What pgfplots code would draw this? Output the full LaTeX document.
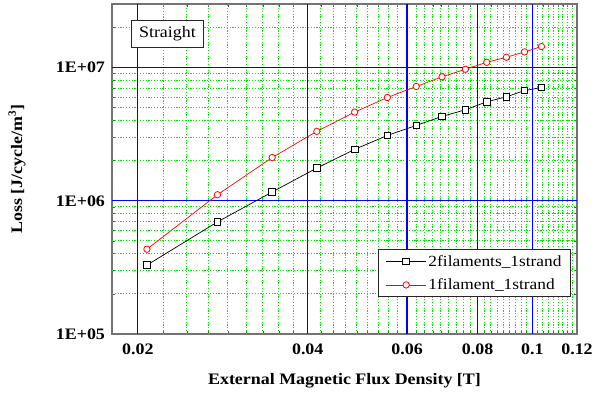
\documentclass[border=0pt]{standalone}
\usepackage{fontspec}
\setmainfont{Liberation Serif}
\newfontfamily\lbl[FakeStretch=1.12]{Liberation Serif}
\usepackage{pgfplots}
\pgfplotsset{compat=1.18}
\definecolor{gridgreen}{RGB}{0,235,0}
\definecolor{gridblue}{RGB}{0,0,255}
\tikzset{mingrid/.style={color=gridgreen, line width=1pt, dash pattern=on 1.2pt off 1.6pt},
         majgrid/.style={color=gridblue, line width=1.3pt}}
\begin{document}
\begin{tikzpicture}
\fill[white] (0,0) rectangle (594pt,396pt);
\useasboundingbox (0,0) rectangle (594pt,396pt);
\begin{axis}[
  at={(112pt,62pt)}, anchor=south west,
  scale only axis, width=465pt, height=330pt,
  xmode=log, ymode=log,
  xmin=0.018, xmax=0.12, ymin=1e5, ymax=3e7,
  xtick={0.02,0.04,0.06,0.08,0.1,0.12},
  xticklabels={0.02,0.04,0.06,0.08,0.1,0.12},
  minor xtick={0.02222,0.02444,0.02667,0.02889,0.03111,0.03333,0.03556,0.03778,
               0.04222,0.04444,0.04667,0.04889,0.05111,0.05333,0.05556,0.05778,
               0.06222,0.06444,0.06667,0.06889,0.07111,0.07333,0.07556,0.07778,
               0.08222,0.08444,0.08667,0.08889,0.09111,0.09333,0.09556,0.09778,
               0.10222,0.10444,0.10667,0.10889,0.11111,0.11333,0.11556,0.11778},
  ytick={1e5,1e6,1e7},
  yticklabels={1E+05,1E+06,1E+07},
  minor ytick={2e5,3e5,4e5,5e5,6e5,7e5,8e5,9e5,2e6,3e6,4e6,5e6,6e6,7e6,8e6,9e6,2e7},
  axis line style={black!55, line width=1.2pt},
  tick style={black!65, line width=0.7pt},
  major tick length=4pt, minor tick length=3pt,
  tick align=inside,
  xticklabel style={font=\lbl\bfseries\fontsize{16}{18}\selectfont, anchor=center, yshift=-15pt},
  yticklabel style={font=\lbl\bfseries\fontsize{16}{18}\selectfont, anchor=east, xshift=-3.5pt},
  xlabel={External Magnetic Flux Density [T]},
  ylabel={Loss [J/cycle/m$^{\mathbf{3}}$]},
  every axis x label/.style={at={(rel axis cs:0.5,0)}, anchor=center, yshift=-47pt,
     font=\lbl\bfseries\fontsize{16}{18}\selectfont},
  every axis y label/.style={at={(rel axis cs:-0.204,0.5)}, rotate=90, anchor=center,
     font=\lbl\bfseries\fontsize{16}{18}\selectfont},
  legend style={at={(rel axis cs:0.987,0.112)}, anchor=south east,
     draw=black!85, line width=0.8pt, fill=white,
     font=\lbl\fontsize{15.5}{17}\selectfont,
     inner xsep=7pt, inner ysep=3.5pt, row sep=7pt},
  legend cell align=left,
  legend image code/.code={
    \draw[mark repeat=2,mark phase=2,line width=0.7pt]
      plot coordinates {(0pt,0pt) (20pt,0pt) (40pt,0pt)};
  },
]
\pgfplotsinvokeforeach{0.02222,0.02444,0.02667,0.02889,0.03111,0.03333,0.03556,0.03778,
               0.04222,0.04444,0.04667,0.04889,0.05111,0.05333,0.05556,0.05778,
               0.06222,0.06444,0.06667,0.06889,0.07111,0.07333,0.07556,0.07778,
               0.08222,0.08444,0.08667,0.08889,0.09111,0.09333,0.09556,0.09778,
               0.10222,0.10444,0.10667,0.10889,0.11111,0.11333,0.11556,0.11778}{
  \draw[mingrid] (axis cs:#1,1e5) -- (axis cs:#1,3e7);
}
\pgfplotsinvokeforeach{2e5,3e5,4e5,5e5,6e5,7e5,8e5,9e5,2e6,3e6,4e6,5e6,6e6,7e6,8e6,9e6,2e7}{
  \draw[mingrid] (axis cs:0.018,#1) -- (axis cs:0.12,#1);
}
\pgfplotsinvokeforeach{0.02,0.04,0.06,0.08,0.1}{
  \draw[majgrid] (axis cs:#1,1e5) -- (axis cs:#1,3e7);
}
\pgfplotsinvokeforeach{1e6,1e7}{
  \draw[majgrid] (axis cs:0.018,#1) -- (axis cs:0.12,#1);
}
\addplot[black, line width=0.7pt, mark=square*, mark size=3.3pt,
  mark options={fill=white, draw=black, line width=0.8pt}]
  coordinates {
  (0.02076,3.29e5) (0.02768,6.94e5) (0.0346,1.164e6) (0.04152,1.761e6)
  (0.04844,2.43e6) (0.05536,3.094e6) (0.06228,3.678e6) (0.0692,4.295e6)
  (0.07612,4.82e6) (0.08304,5.53e6) (0.08996,6.03e6) (0.09688,6.72e6)
  (0.1038,7.08e6)};
\addlegendentry{2filaments\_1strand}
\addplot[red, line width=0.7pt, mark=*, mark size=3.2pt,
  mark options={fill=white, draw=red, line width=0.8pt}]
  coordinates {
  (0.02076,4.33e5) (0.02768,1.11e6) (0.0346,2.11e6) (0.04152,3.32e6)
  (0.04844,4.63e6) (0.05536,5.96e6) (0.06228,7.21e6) (0.0692,8.52e6)
  (0.07612,9.71e6) (0.08304,1.095e7) (0.08996,1.195e7) (0.09688,1.311e7)
  (0.1038,1.437e7)};
\addlegendentry{1filament\_1strand}
\node[draw=black!85, line width=0.8pt, fill=white, anchor=north west,
  minimum width=72pt, minimum height=27pt, inner sep=2pt,
  font=\lbl\fontsize{16}{18}\selectfont]
  at (rel axis cs:0.041,0.952) {Straight};
\end{axis}
\end{tikzpicture}
\end{document}
